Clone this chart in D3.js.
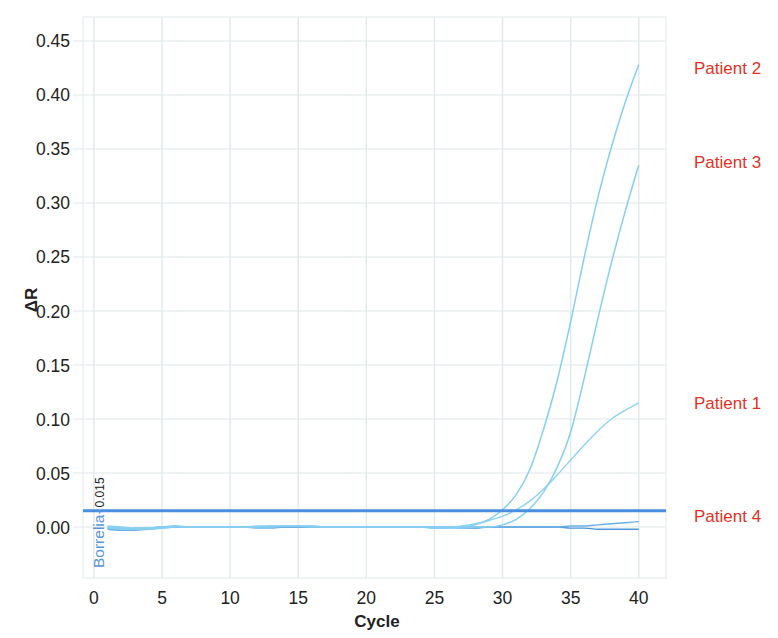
<!DOCTYPE html>
<html><head><meta charset="utf-8">
<script src="https://cdn.jsdelivr.net/npm/d3@7"></script>
<style>body{margin:0;background:#fff}svg{display:block;font-family:"Liberation Sans",Arial,sans-serif}</style>
</head><body><svg id="c" width="778" height="638"></svg>
<script>
const cycles = d3.range(1, 41);
const patient1 = [0.001,0.000,-0.001,-0.001,0.000,0.001,0.000,0.000,0.000,0.000,0.000,0.001,0.001,0.001,0.001,0.001,0.000,0.000,0.000,0.000,0.000,0.000,0.000,0.000,0.000,0.000,0.001,0.003,0.006,0.010,0.016,0.024,0.035,0.048,0.062,0.076,0.089,0.100,0.108,0.115];
const patient2 = [-0.001,-0.002,-0.002,-0.001,0.000,0.001,0.000,0.000,0.000,0.000,0.000,0.000,0.001,0.001,0.001,0.000,0.000,0.000,0.000,0.000,0.000,0.000,0.000,0.000,-0.001,-0.001,0.000,0.002,0.007,0.016,0.030,0.053,0.090,0.135,0.190,0.250,0.305,0.352,0.393,0.428];
const patient3 = [0.000,-0.001,-0.002,-0.002,-0.001,0.000,0.000,0.000,0.000,0.000,0.000,0.000,0.000,0.001,0.001,0.001,0.000,0.000,0.000,0.000,0.000,0.000,0.000,0.000,-0.001,-0.001,-0.001,0.000,0.000,0.002,0.007,0.017,0.032,0.055,0.088,0.138,0.193,0.245,0.292,0.335];
const patient4 = [-0.002,-0.003,-0.003,-0.002,-0.001,0.000,0.000,0.000,0.000,0.000,0.000,-0.001,-0.001,0.000,0.000,0.000,0.000,0.000,0.000,0.000,0.000,0.000,0.000,0.000,0.000,0.000,0.000,0.000,0.000,0.000,0.000,0.000,0.000,0.000,0.001,0.001,0.002,0.003,0.004,0.005];
const control  = [-0.001,-0.002,-0.001,-0.001,0.000,0.000,0.000,0.000,0.000,0.000,0.000,0.000,0.000,0.000,0.000,0.000,0.000,0.000,0.000,0.000,0.000,0.000,0.000,0.000,0.000,0.000,-0.001,-0.001,0.000,0.000,0.000,0.000,0.000,0.000,-0.001,-0.001,-0.002,-0.002,-0.002,-0.002];
const xTicks = [0,5,10,15,20,25,30,35,40];
const yTicks = [0,0.05,0.10,0.15,0.20,0.25,0.30,0.35,0.40,0.45];
const threshold = 0.015;
const thresholdName = "Borrelia-";
const labels = ["Patient 2","Patient 3","Patient 1","Patient 4"];
const labelValues = [0.425, 0.338, 0.115, 0.010];

const svg = d3.select("#c");
const L=83, R=666, T=17, B=578;
const x = d3.scaleLinear().domain([-0.8, 42.0]).range([L, R]);
const y = d3.scaleLinear().domain([-0.0472, 0.4722]).range([B, T]);

svg.append("rect").attr("x",L).attr("y",T).attr("width",R-L).attr("height",B-T)
  .attr("fill","none").attr("stroke","#edf1f2").attr("stroke-width",1.5);
svg.append("g").selectAll("line").data(yTicks).join("line")
  .attr("x1",L-10).attr("x2",R).attr("y1",d=>y(d)).attr("y2",d=>y(d))
  .attr("stroke","#eaeff0").attr("stroke-width",1.5);
svg.append("g").selectAll("line").data(xTicks).join("line")
  .attr("x1",d=>x(d)).attr("x2",d=>x(d)).attr("y1",T).attr("y2",B)
  .attr("stroke","#e2eaec").attr("stroke-width",1.5);
svg.append("g").selectAll("text").data(yTicks).join("text")
  .attr("x",70).attr("y",d=>y(d)+6.5).attr("text-anchor","end")
  .attr("font-size",17.5).attr("fill","#222").text(d=>d3.format(".2f")(d));
svg.append("g").selectAll("text").data(xTicks).join("text")
  .attr("x",d=>x(d)).attr("y",604).attr("text-anchor","middle")
  .attr("font-size",17.5).attr("fill","#222").text(d=>d);
svg.append("text").attr("x",377).attr("y",627).attr("text-anchor","middle")
  .attr("font-size",17).attr("font-weight","bold").attr("fill","#222").text("Cycle");
svg.append("text").attr("transform","translate(37,300) rotate(-90)").attr("text-anchor","middle")
  .attr("font-size",17).attr("font-weight","bold").attr("fill","#222").text("ΔR");

const line = d3.line().x((d,i)=>x(cycles[i])).y(d=>y(d)).curve(d3.curveMonotoneX);
const series = [
  {v:control, c:"#4f97dc", w:1.4},
  {v:patient4, c:"#6ab0e6", w:1.4},
  {v:patient1, c:"#8dd3f3", w:1.4},
  {v:patient3, c:"#86cff2", w:1.5},
  {v:patient2, c:"#86cff2", w:1.5}
];
svg.append("g").selectAll("path").data(series).join("path")
  .attr("d",d=>line(d.v)).attr("fill","none").attr("stroke",d=>d.c).attr("stroke-width",d=>d.w);

svg.append("line").attr("x1",L).attr("x2",R).attr("y1",y(threshold)).attr("y2",y(threshold))
  .attr("stroke","#4a8ee0").attr("stroke-width",3);
const tl = svg.append("text").attr("transform",`translate(104,568) rotate(-90)`).attr("font-size",15.5);
tl.append("tspan").attr("fill","#5b95da").text(thresholdName);
tl.append("tspan").attr("fill","#222").attr("font-size",12).attr("dx",2).text(threshold);

svg.append("g").selectAll("text").data(labels).join("text")
  .attr("x",694).attr("y",(d,i)=>y(labelValues[i])+6).attr("font-size",17)
  .attr("fill","#e2321f").text(d=>d);
</script></body></html>
